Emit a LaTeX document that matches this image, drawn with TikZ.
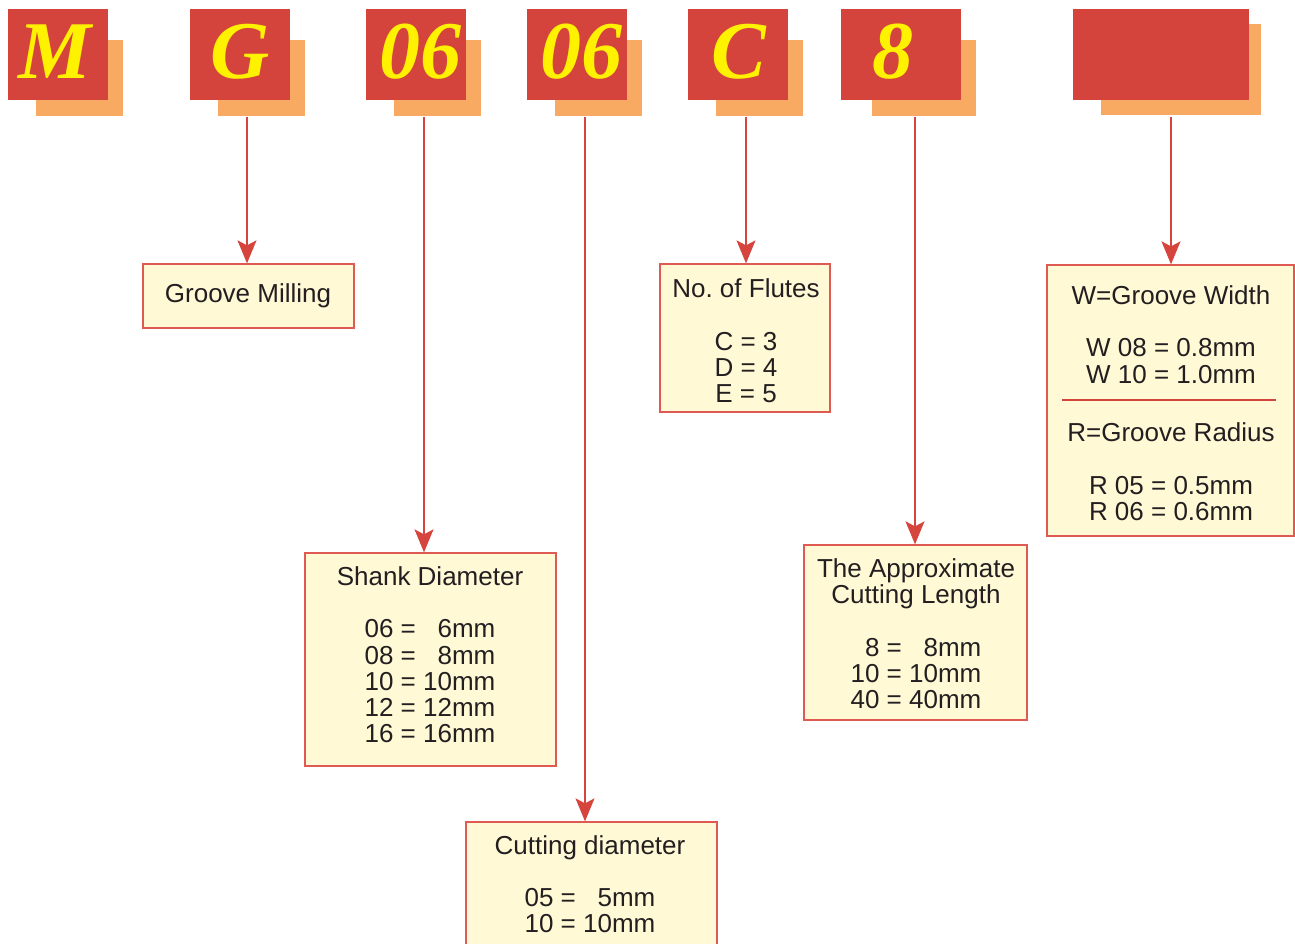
\documentclass[tikz,border=0pt]{standalone}
\usepackage{fontspec}
\setmainfont{Liberation Sans}
\newfontfamily\letterfont{Liberation Serif}
\usetikzlibrary{arrows.meta}
\frenchspacing
\definecolor{redblk}{HTML}{D5443C}
\definecolor{orgblk}{HTML}{F8AA62}
\definecolor{ylw}{HTML}{FFF200}
\definecolor{boxfill}{HTML}{FFF9D6}
\definecolor{boxline}{HTML}{DF5A52}
\definecolor{arrc}{HTML}{D6453D}
\definecolor{txtc}{HTML}{231F20}
\tikzset{
  redb/.style={fill=redblk, inner sep=0, minimum height=91pt},
  orgb/.style={fill=orgblk, inner sep=0},
  letter/.style={font=\letterfont\bfseries\itshape\fontsize{82}{82}\selectfont, text=ylw, inner sep=0, anchor=base},
  infobox/.style={draw=boxline, fill=boxfill, line width=1.3pt, inner sep=0},
  lbl/.style={font=\fontsize{26}{26}\selectfont, text=txtc, inner sep=0, anchor=base},
  conn/.style={draw=arrc, line width=1.3pt, -{Stealth[length=23pt, width=19pt, inset=5pt]}},
}
\begin{document}
\begin{tikzpicture}[x=1pt,y=-1pt]
\useasboundingbox (0,0) rectangle (1295,943);
\clip (0,0) rectangle (1295,943);
% top blocks
\node[orgb, minimum width=87pt, minimum height=76pt] (oM) at (79.5,78) {};
\node[redb, minimum width=100pt] (rM) at (58,54.5) {};
\node[orgb, minimum width=87pt, minimum height=76pt] (oG) at (261.5,78) {};
\node[redb, minimum width=100pt] (rG) at (240,54.5) {};
\node[orgb, minimum width=87pt, minimum height=76pt] (oS) at (437.5,78) {};
\node[redb, minimum width=100pt] (rS) at (416,54.5) {};
\node[orgb, minimum width=87pt, minimum height=76pt] (oD) at (598.5,78) {};
\node[redb, minimum width=100pt] (rD) at (577,54.5) {};
\node[orgb, minimum width=87pt, minimum height=76pt] (oC) at (759.5,78) {};
\node[redb, minimum width=100pt] (rC) at (738,54.5) {};
\node[orgb, minimum width=104pt, minimum height=76pt] (oL) at (924,78) {};
\node[redb, minimum width=120pt] (rL) at (901,54.5) {};
\node[orgb, minimum width=160pt, minimum height=91pt] (oW) at (1181,69.5) {};
\node[redb, minimum width=176pt] (rW) at (1161,54.5) {};
% letters
\node[letter] (tM) at (54.5,78.5) {M};
\node[letter] (tG) at (240,78.5) {G};
\node[letter] (tS) at (420,78.5) {06};
\node[letter] (tD) at (581,78.5) {06};
\node[letter] (tC) at (739,78.5) {C};
\node[letter] (tL) at (893,78.5) {8};
% info boxes
\node[infobox, minimum width=211pt, minimum height=64pt] (bG) at (248.5,296) {};
\node[infobox, minimum width=170pt, minimum height=148pt] (bC) at (745,338) {};
\node[infobox, minimum width=247pt, minimum height=271pt] (bW) at (1170.5,400.5) {};
\node[infobox, minimum width=251pt, minimum height=213pt] (bS) at (430.5,659.5) {};
\node[infobox, minimum width=223pt, minimum height=175pt] (bL) at (915.5,632.5) {};
\node[infobox, minimum width=251pt, minimum height=138pt] (bD) at (591.5,891) {};
% divider in W box
\coordinate (wdl) at (1062,400);
\coordinate (wdr) at (1276,400);
\draw[redblk, line width=2pt] (wdl) -- (wdr);
% texts
\node[lbl] (g1) at (248,302.5) {Groove Milling};
\node[lbl] (c1) at (746,297.5) {No. of Flutes};
\node[lbl] (c2) at (746,350.5) {C = 3};
\node[lbl] (c3) at (746,376.5) {D = 4};
\node[lbl] (c4) at (746,402.5) {E = 5};
\node[lbl] (s1) at (430,585.5) {Shank Diameter};
\node[lbl] (s2) at (430,637.5) {06 = \phantom{1}6mm};
\node[lbl] (s3) at (430,664) {08 = \phantom{1}8mm};
\node[lbl] (s4) at (430,690.5) {10 = 10mm};
\node[lbl] (s5) at (430,716.5) {12 = 12mm};
\node[lbl] (s6) at (430,742.5) {16 = 16mm};
\node[lbl] (l1) at (916,577.5) {The Approximate};
\node[lbl] (l2) at (916,603.5) {Cutting Length};
\node[lbl] (l3) at (916,656.5) {\phantom{1}8 = \phantom{1}8mm};
\node[lbl] (l4) at (916,682.5) {10 = 10mm};
\node[lbl] (l5) at (916,708.5) {40 = 40mm};
\node[lbl] (w1) at (1171,304.5) {W=Groove Width};
\node[lbl] (w2) at (1171,356.5) {W 08 = 0.8mm};
\node[lbl] (w3) at (1171,383.5) {W 10 = 1.0mm};
\node[lbl] (w4) at (1171,441.5) {R=Groove Radius};
\node[lbl] (w5) at (1171,494.5) {R 05 = 0.5mm};
\node[lbl] (w6) at (1171,520.5) {R 06 = 0.6mm};
\node[lbl] (d1) at (590,854.5) {Cutting diameter};
\node[lbl] (d2) at (590,906.5) {05 = \phantom{1}5mm};
\node[lbl] (d3) at (590,932.5) {10 = 10mm};
% connector starts
\coordinate (aG) at (247,117);
\coordinate (aS) at (424,117);
\coordinate (aD) at (585,117);
\coordinate (aC) at (746,117);
\coordinate (aL) at (915,117);
\coordinate (aW) at (1171,117);
\draw[conn] (aG) -- (aG |- bG.north);
\draw[conn] (aS) -- (aS |- bS.north);
\draw[conn] (aD) -- (aD |- bD.north);
\draw[conn] (aC) -- (aC |- bC.north);
\draw[conn] (aL) -- (aL |- bL.north);
\draw[conn] (aW) -- (aW |- bW.north);
\end{tikzpicture}
\end{document}
